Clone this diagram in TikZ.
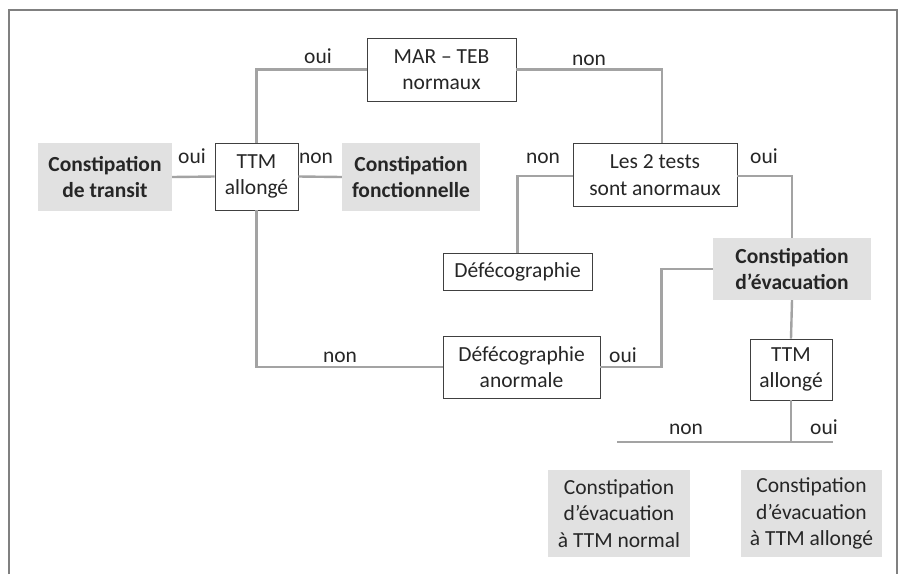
\documentclass[tikz,border=0pt]{standalone}
\usepackage{fontspec}
\setmainfont{Carlito}
\definecolor{boxline}{HTML}{404040}
\definecolor{connline}{HTML}{A3A3A3}
\definecolor{greyfill}{HTML}{E1E1E1}
\definecolor{txtcol}{HTML}{262626}
\begin{document}
\begin{tikzpicture}[x=1pt,y=-1pt,
    boxsty/.style={draw=boxline, line width=0.9pt, fill=white, text=txtcol, align=center, inner sep=0pt, font=\fontsize{21.5}{26.5}\selectfont},
    greysty/.style={fill=greyfill, text=txtcol, align=center, inner sep=0pt, font=\fontsize{21.5}{26.5}\selectfont},
    linesty/.style={color=connline, line width=2.4pt},
    labsty/.style={anchor=base, text=txtcol, inner sep=0pt, font=\fontsize{21.5}{26.5}\selectfont},
    framesty/.style={color=gray, line width=1.8pt}]

\useasboundingbox (0,0) rectangle (906,574);

% Outer frame (open at the bottom)
\draw[framesty] (9,574) -- (9,10) -- (897,10) -- (897,574);

% Test boxes
\node[boxsty, minimum width=149pt, minimum height=63pt] (mar) at (441.5,69.5) {MAR -- TEB\\normaux};
\node[boxsty, minimum width=83pt, minimum height=67pt] (ttma) at (256.5,176.5) {TTM\\allongé};
\node[boxsty, minimum width=164pt, minimum height=63pt] (tests) at (655,175) {Les 2 tests\\sont anormaux};
\node[boxsty, minimum width=149pt, minimum height=37pt] (defeco) at (517.5,272) {Défécographie};
\node[boxsty, minimum width=157pt, minimum height=62pt] (anorm) at (521.5,367) {Défécographie\\anormale};
\node[boxsty, minimum width=82pt, minimum height=61pt] (ttmb) at (791,369.5) {TTM\\allongé};

% Diagnoses (grey)
\node[greysty, minimum width=134pt, minimum height=68pt] (transit) at (105,177) {\bfseries Constipation\\\bfseries de transit};
\node[greysty, minimum width=138pt, minimum height=68pt] (fonct) at (411,177) {\bfseries Constipation\\\bfseries fonctionnelle};
\node[greysty, minimum width=158pt, minimum height=62pt] (evac) at (792,269) {\bfseries Constipation\\\bfseries d’évacuation};
\node[greysty, minimum width=142pt, minimum height=87pt] (evacn) at (619,513.5) {Constipation\\d’évacuation\\à TTM normal};
\node[greysty, minimum width=141pt, minimum height=87pt] (evaca) at (811.5,513.5) {Constipation\\d’évacuation\\à TTM allongé};

% Connectors
\draw[linesty] (mar.west) -| (ttma.north);
\draw[linesty] (mar.east) -| ([xshift=7pt]tests.north);
\draw[linesty] (transit.east) -- (ttma.west);
\draw[linesty] (ttma.east) -- (fonct.west);
\draw[linesty] (ttma.south) |- (anorm.west);
\draw[linesty] ([yshift=-1pt]tests.west) -| (defeco.north);
\draw[linesty] ([yshift=-1pt]tests.east) -| (evac.north);
\draw[linesty] (anorm.east) -- ++(61,0) |- (evac.west);
\draw[linesty] (evac.south) -- (ttmb.north);
\coordinate (hl) at (617,442);
\coordinate (hr) at (833,442);
\draw[linesty] (ttmb.south) -- (ttmb.south |- hl);
\draw[linesty] (hl) -- (hr);

% Answers
\node[labsty] (o1) at (318,63) {oui};
\node[labsty] (n1) at (589,65) {non};
\node[labsty] (o2) at (192,163) {oui};
\node[labsty] (n2) at (316,163) {non};
\node[labsty] (n3) at (543,163) {non};
\node[labsty] (o3) at (764,163) {oui};
\node[labsty] (n4) at (340,362) {non};
\node[labsty] (o4) at (623,362) {oui};
\node[labsty] (n5) at (686,434) {non};
\node[labsty] (o5) at (824,434) {oui};

\end{tikzpicture}
\end{document}
